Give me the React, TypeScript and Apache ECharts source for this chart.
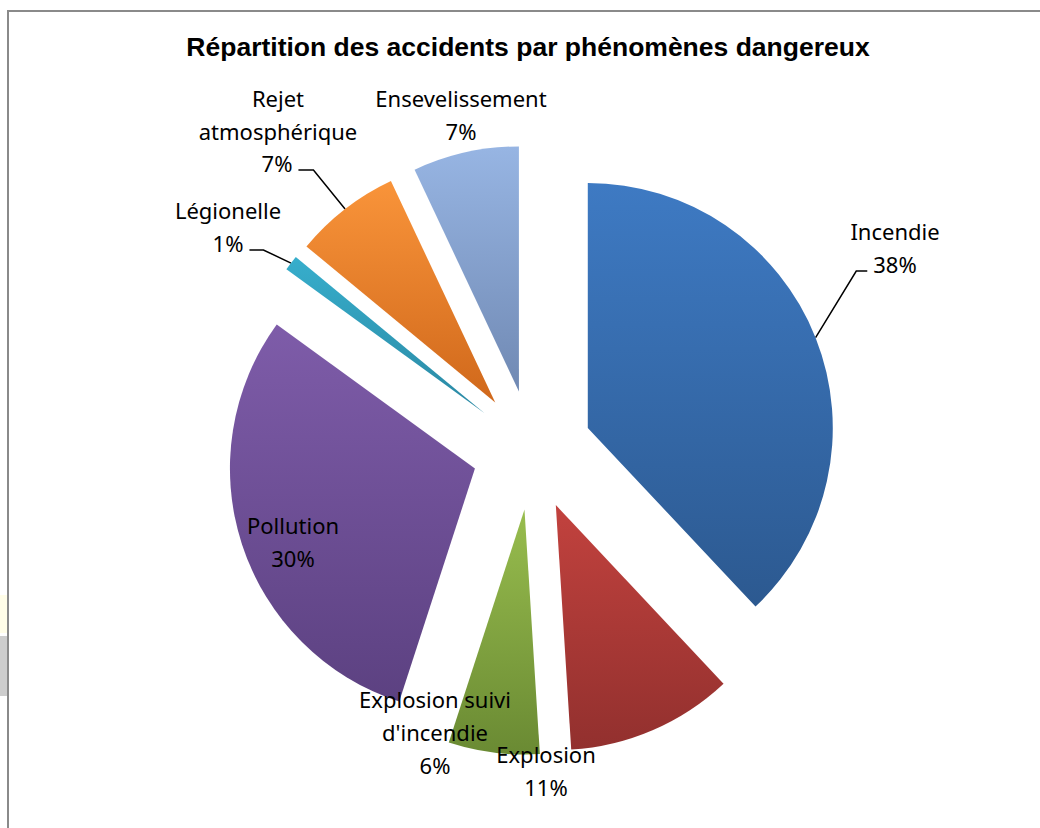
import React, { useEffect, useRef } from "react";
import * as echarts from "echarts";

const TITLE = "Répartition des accidents par phénomènes dangereux";
const categories = [
  "Incendie",
  "Explosion",
  "Explosion suivi d'incendie",
  "Pollution",
  "Légionelle",
  "Rejet atmosphérique",
  "Ensevelissement",
];
const percents = [38, 11, 6, 30, 1, 7, 7];
const labelTexts = [
  "Incendie",
  "Explosion",
  "Explosion suivi\nd'incendie",
  "Pollution",
  "Légionelle",
  "Rejet\natmosphérique",
  "Ensevelissement",
];
const topColors = ["#3E7AC3", "#C2423E", "#98BD4E", "#7E5CA9", "#37AECC", "#F9943A", "#97B5E3"];
const bottomColors = ["#2C5990", "#92302E", "#6A8A33", "#5C4181", "#2A88A3", "#D0681B", "#7089B3"];
const showLeader = [true, false, false, false, true, true, false];

// label layout: centre of the whole text block for plain labels;
// for leader labels, centre of the percent line (name block placed separately)
const labelCenters: [number, number][] = [
  [895, 264],
  [546, 770],
  [435, 732],
  [293, 541],
  [228, 243],
  [277, 163],
  [461, 114],
];
const nameCenters: ([number, number] | null)[] = [
  [895, 231],
  null,
  null,
  null,
  [228, 210],
  [278, 114],
  null,
];
const leaderLen2 = [11, 0, 0, 0, 14, 15, 0];

const CX = 532;
const CY = 450;
const R = 245;
const EXPLODE = 60;
const FONT = 22;
const LH = 33;
const LEADER_DROP = 7; // leader joins a little below the percent line's centre
const LEADER_GAP = 6; // gap between the percent text and the leader
const PAD_TOP = 100;
const PAD_BOTTOM = PAD_TOP + 2 * LEADER_DROP;

export default function App() {
  const ref = useRef<HTMLDivElement>(null);
  useEffect(() => {
    if (!ref.current) return;
    const chart = echarts.init(ref.current, null, { renderer: "svg" });
    const total = percents.reduce((a, b) => a + b, 0);
    const n = categories.length;
    let cum = 0;
    const series = categories.map((_, i) => {
      const startDeg = 90 - (cum / total) * 360;
      cum += percents[i];
      const endDeg = 90 - (cum / total) * 360;
      const mid = ((startDeg + endDeg) / 2) * (Math.PI / 180);
      const cx = CX + EXPLODE * Math.cos(mid);
      const cy = CY - EXPLODE * Math.sin(mid);

      const data = categories.map((name, j) => {
        if (j === i) {
          const label: any = showLeader[j]
            ? {
                show: true,
                formatter: (p: any) => `{t| }\n{p|${p.value}%}\n{b| }`,
                rich: {
                  t: { lineHeight: PAD_TOP, fontSize: FONT },
                  p: {
                    fontSize: FONT,
                    lineHeight: LH,
                    color: "#000",
                    padding: [0, LEADER_GAP, 0, LEADER_GAP],
                  },
                  b: { lineHeight: PAD_BOTTOM, fontSize: FONT },
                },
              }
            : { show: true };
          return {
            name,
            value: percents[j],
            itemStyle: {
              color: new echarts.graphic.LinearGradient(0, 0, 0, 1, [
                { offset: 0, color: topColors[j] },
                { offset: 1, color: bottomColors[j] },
              ]),
            },
            label,
            labelLine: { show: showLeader[j], length2: leaderLen2[j] },
          };
        }
        // name of a leader-labelled slice, hosted by the next series
        const hostsName = showLeader[j] && (j + 1) % n === i;
        return {
          name,
          value: percents[j],
          itemStyle: { color: "rgba(0,0,0,0)" },
          label: hostsName
            ? { show: true, formatter: () => labelTexts[j] }
            : { show: false },
          labelLine: { show: false },
        };
      });

      return {
        type: "pie",
        name: categories[i],
        center: [cx, cy],
        radius: R,
        startAngle: 90,
        clockwise: true,
        silent: true,
        avoidLabelOverlap: false,
        emphasis: { disabled: true },
        itemStyle: { borderWidth: 0 },
        label: {
          color: "#000000",
          fontFamily: "'Noto Sans', sans-serif",
          fontSize: FONT,
          lineHeight: LH,
          align: "center",
          overflow: "none",
          formatter: (p: any) => `${labelTexts[p.dataIndex]}\n${p.value}%`,
        },
        labelLine: {
          length: 20,
          length2: 12,
          minTurnAngle: 0,
          lineStyle: { color: "#000000", width: 1.5 },
        },
        labelLayout: (p: any) => {
          const k = p.dataIndex;
          const c =
            k === i
              ? showLeader[k]
                ? [labelCenters[k][0], labelCenters[k][1] + LEADER_DROP]
                : labelCenters[k]
              : nameCenters[k] || labelCenters[k];
          return { x: c[0], y: c[1], align: "center", verticalAlign: "middle" };
        },
        data,
      };
    });
    chart.setOption({
      animation: false,
      backgroundColor: "#ffffff",
      graphic: [
        {
          type: "rect",
          shape: { x: 0, y: 595, width: 7, height: 38 },
          style: { fill: "#FFFDE8" },
          silent: true,
        },
        {
          type: "rect",
          shape: { x: 0, y: 636, width: 7, height: 60 },
          style: { fill: "#CDCDCD" },
          silent: true,
        },
        {
          type: "polyline",
          shape: { points: [[8, 828], [8, 11], [1040, 11]] },
          style: { stroke: "#8a8a8a", lineWidth: 2, fill: null },
          silent: true,
        },
        {
          type: "text",
          x: 528,
          y: 47,
          style: {
            text: TITLE,
            align: "center",
            verticalAlign: "middle",
            font: "bold 26.5px 'Liberation Sans', Arial, sans-serif",
            fill: "#000000",
          },
          silent: true,
        },
      ],
      series,
    });
    return () => chart.dispose();
  }, []);
  return (
    <div
      ref={ref}
      style={{ position: "absolute", left: 0, top: 0, width: 1040, height: 828 }}
    />
  );
}
